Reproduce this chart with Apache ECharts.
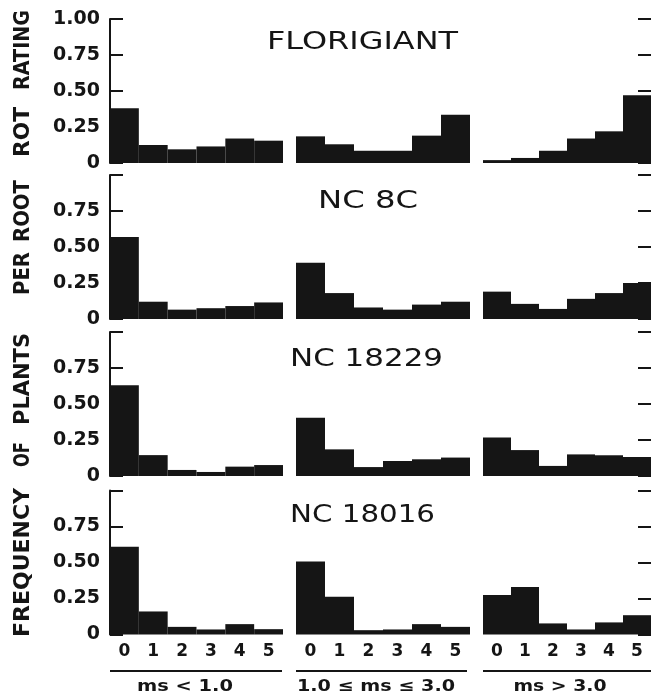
<!DOCTYPE html>
<html>
<head>
<meta charset="utf-8">
<script src="https://cdn.jsdelivr.net/npm/echarts@6/dist/echarts.min.js"></script>
<style>
html,body{margin:0;padding:0;background:#fff;}
#chart{width:651px;height:698px;}
</style>
</head>
<body>
<div id="chart"></div>
<script>
// ---------- DATA ----------
const categories = ['0', '1', '2', '3', '4', '5'];
const cultivars = ['FLORIGIANT', 'NC 8C', 'NC 18229', 'NC 18016'];
const msGroups = ['ms < 1.0', '1.0 \u2264 ms \u2264 3.0', 'ms > 3.0'];
const yTicks = [0, 0.25, 0.5, 0.75, 1.0];
const yTickLabels = ['0', '0.25', '0.50', '0.75', '1.00'];
const yTitleWords = ['FREQUENCY', 'OF', 'PLANTS', 'PER', 'ROOT', 'ROT', 'RATING'];

// FLORIGIANT
const florigiantLow  = [0.38, 0.125, 0.095, 0.115, 0.17, 0.155];
const florigiantMid  = [0.185, 0.13, 0.085, 0.085, 0.19, 0.335];
const florigiantHigh = [0.02, 0.035, 0.085, 0.17, 0.22, 0.47];
// NC 8C
const nc8cLow  = [0.57, 0.12, 0.065, 0.075, 0.09, 0.115];
const nc8cMid  = [0.39, 0.18, 0.08, 0.065, 0.10, 0.12];
const nc8cHigh = [0.19, 0.105, 0.07, 0.14, 0.18, 0.25];
// NC 18229
const nc18229Low  = [0.63, 0.145, 0.042, 0.028, 0.065, 0.076];
const nc18229Mid  = [0.405, 0.185, 0.062, 0.104, 0.116, 0.128];
const nc18229High = [0.267, 0.18, 0.07, 0.15, 0.144, 0.132];
// NC 18016
const nc18016Low  = [0.61, 0.16, 0.053, 0.035, 0.072, 0.037];
const nc18016Mid  = [0.507, 0.263, 0.03, 0.035, 0.072, 0.053];
const nc18016High = [0.274, 0.33, 0.077, 0.035, 0.084, 0.134];

const panelData = [
  [florigiantLow, florigiantMid, florigiantHigh],
  [nc8cLow, nc8cMid, nc8cHigh],
  [nc18229Low, nc18229Mid, nc18229High],
  [nc18016Low, nc18016Mid, nc18016High]
];

// ---------- LAYOUT ----------
const colLeft = [110, 296, 483];
const colWidth = [173, 174, 173];
const rowTop = [19, 175, 332, 490.5];
const rowHeight = 144;
const INK = '#151515';
const FONT = '"DejaVu Sans", sans-serif';

const measureCtx = document.createElement('canvas').getContext('2d');
function textWidth(str, size, weight) {
  measureCtx.font = (weight || 'normal') + ' ' + size + 'px ' + FONT;
  return measureCtx.measureText(str).width;
}
function stretchedText(str, cx, cy, size, weight, targetLen, rotation) {
  const w = textWidth(str, size, weight);
  return {
    type: 'text', x: cx, y: cy, rotation: rotation || 0,
    scaleX: targetLen / w, scaleY: 1, silent: true,
    style: { text: str, fontSize: size, fontWeight: weight || 'normal', fontFamily: FONT,
             fill: INK, align: 'center', verticalAlign: 'middle' }
  };
}

const grids = [], xAxes = [], yAxes = [], series = [];
for (let r = 0; r < 4; r++) {
  for (let c = 0; c < 3; c++) {
    const idx = r * 3 + c;
    grids.push({ left: colLeft[c], top: rowTop[r], width: colWidth[c], height: rowHeight, containLabel: false });
    xAxes.push({
      type: 'category', gridIndex: idx, data: categories,
      axisLine: { show: false }, axisTick: { show: false }, splitLine: { show: false },
      axisLabel: { show: r === 3, color: INK, fontSize: 17, fontWeight: 'bold', fontFamily: FONT, margin: 9 }
    });
    yAxes.push({
      type: 'value', gridIndex: idx, min: 0, max: 1, interval: 0.25,
      position: c === 2 ? 'right' : 'left',
      splitLine: { show: false },
      axisLine: { show: c === 0, lineStyle: { color: INK, width: 2 } },
      axisTick: { show: c !== 1, inside: true, length: 13, lineStyle: { color: INK, width: 2 } },
      axisLabel: {
        show: c === 0, color: INK, fontSize: 19, fontWeight: 'bold', fontFamily: FONT, margin: 10,
        formatter: function (v) {
          const k = yTicks.findIndex(t => Math.abs(t - v) < 1e-6);
          if (k < 0) return '';
          if (k === yTicks.length - 1 && r > 0) return '';
          return yTickLabels[k];
        }
      }
    });
    series.push({
      type: 'bar', xAxisIndex: idx, yAxisIndex: idx, data: panelData[r][c],
      barCategoryGap: '0%', itemStyle: { color: INK }, silent: true, animation: false
    });
  }
}

// ---------- TEXT / DECORATION ----------
const graphics = [];
const titlePos = [[362.5, 42.5, 191], [368, 201, 100], [366.5, 359, 153], [362.5, 515, 145]];
cultivars.forEach((name, i) => {
  graphics.push(stretchedText(name, titlePos[i][0], titlePos[i][1], 25, 'normal', titlePos[i][2]));
});
const yWordPos = [[562.5, 149], [454.5, 25], [379, 92], [273.5, 43], [211, 62], [132, 50], [50, 80]];
yTitleWords.forEach((w, i) => {
  graphics.push(stretchedText(w, 24, yWordPos[i][0], 21, 'bold', yWordPos[i][1], Math.PI / 2));
});
const groupPos = [[185, 96], [376, 158], [560, 93]];
const underline = [[110, 282], [296, 467], [483, 651]];
msGroups.forEach((g, i) => {
  graphics.push({
    type: 'line', silent: true,
    shape: { x1: underline[i][0], y1: 671, x2: underline[i][1], y2: 671 },
    style: { stroke: INK, lineWidth: 2 }
  });
  graphics.push(stretchedText(g, groupPos[i][0], 687, 16, 'bold', groupPos[i][1]));
});

const chart = echarts.init(document.getElementById('chart'), null, { renderer: 'canvas' });
chart.setOption({
  backgroundColor: '#ffffff',
  animation: false,
  grid: grids, xAxis: xAxes, yAxis: yAxes, series: series,
  graphic: graphics
});
</script>
</body>
</html>
